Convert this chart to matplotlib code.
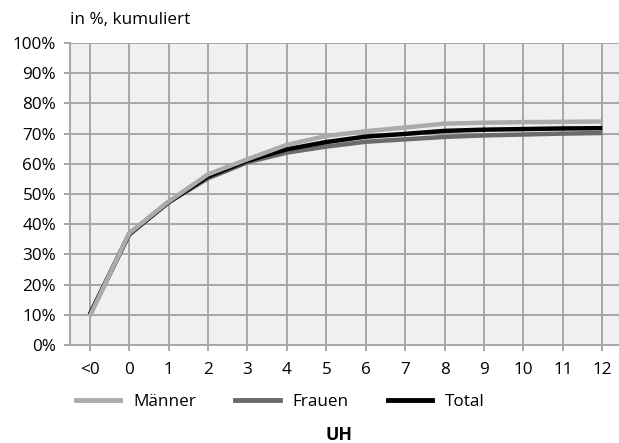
import matplotlib
matplotlib.use("Agg")
import matplotlib.pyplot as plt
from matplotlib.lines import Line2D

categories = ["<0", "0", "1", "2", "3", "4", "5", "6", "7", "8", "9", "10", "11", "12"]
maenner = [9.5, 37.0, 47.5, 56.5, 61.5, 66.3, 69.2, 70.8, 72.0, 73.3, 73.6, 73.8, 73.9, 74.0]
frauen = [10.0, 36.5, 47.2, 55.2, 60.5, 63.7, 65.7, 67.3, 68.1, 68.9, 69.4, 69.7, 70.0, 70.2]
total = [10.0, 36.8, 47.3, 55.8, 61.0, 64.8, 67.2, 69.0, 69.9, 70.9, 71.3, 71.5, 71.7, 71.8]
yticks = [0, 10, 20, 30, 40, 50, 60, 70, 80, 90, 100]

FONT = "Open Sans"
plt.rcParams["font.family"] = [FONT, "DejaVu Sans"]
FS = 12.3

W, H = 619, 443
fig = plt.figure(figsize=(W / 100, H / 100), dpi=100)
left, right, top, bottom = 70, 622, 43, 345
ax = fig.add_axes([left / W, (H - bottom) / H, (right - left) / W, (bottom - top) / H])
ax.set_facecolor("#f0f0f0")

x = list(range(len(categories)))
c_m, c_f, c_t = "#ababab", "#6b6b6b", "#000000"
lw = 3.2
ax.plot(x, frauen, color=c_f, lw=lw, zorder=3, solid_capstyle="butt")
ax.plot(x, total, color=c_t, lw=lw, zorder=4, solid_capstyle="butt")
ax.plot(x, maenner, color=c_m, lw=lw, zorder=5, solid_capstyle="butt")

ax.set_xlim(-0.5, len(categories) - 0.5)
ax.set_ylim(0, 100)
ax.set_yticks(yticks)
ax.set_yticklabels([f"{v}%" for v in yticks])
ax.set_xticks(x)
ax.set_xticklabels(categories)

grid_c = "#a6a6a6"
ax.grid(True, color=grid_c, lw=1.4, zorder=1)
ax.set_axisbelow(True)
for s in ["top", "right"]:
    ax.spines[s].set_visible(False)
for s in ["left", "bottom"]:
    ax.spines[s].set_color(grid_c)
    ax.spines[s].set_linewidth(1.4)
ax.tick_params(axis="both", colors=grid_c, length=4, width=1.4, labelsize=FS,
               labelcolor="#000000")
ax.tick_params(axis="x", pad=8)
ax.tick_params(axis="y", pad=6)

fig.text(left / W, 1 - 20 / H, "in %, kumuliert", fontsize=FS, va="center", ha="left")

handles = [Line2D([], [], color=c_m, lw=3.5),
           Line2D([], [], color=c_f, lw=3.5),
           Line2D([], [], color=c_t, lw=3.5)]
fig.legend(handles, ["Männer", "Frauen", "Total"], loc="center left",
           bbox_to_anchor=(76 / W, 1 - 402 / H), ncol=3, frameon=False,
           fontsize=FS, handlelength=2.6, handletextpad=0.75, columnspacing=2.3,
           borderaxespad=0, borderpad=0)

fig.text(339 / W, 1 - 435 / H, "UH", fontsize=FS + 0.5, fontweight="bold", ha="center", va="center")

fig.savefig("out.png", dpi=100)
